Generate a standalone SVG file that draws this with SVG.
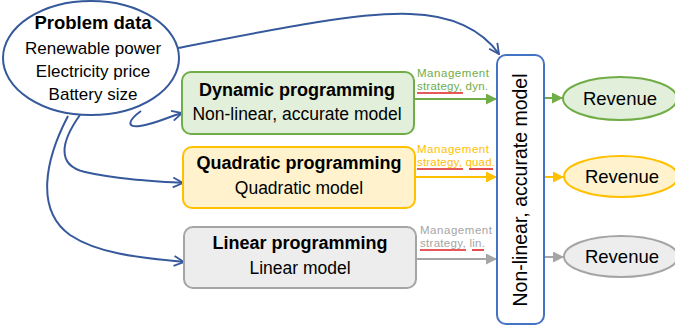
<svg xmlns="http://www.w3.org/2000/svg" width="675" height="329" viewBox="0 0 675 329">
  <defs>
    <style>
      text { font-family: "Liberation Sans", Arial, sans-serif; fill: #000; }
      .title { font-size: 18px; font-weight: bold; text-anchor: middle; }
      .sub { font-size: 17.5px; text-anchor: middle; }
      .small { font-size: 11.5px; }
      .flow { fill: none; stroke: #36599c; stroke-width: 2; }
      .spell { stroke: #e02020; stroke-width: 1.6; }
    </style>
    <marker id="openArrow" viewBox="0 0 12 12" refX="11" refY="6" markerWidth="12" markerHeight="12" markerUnits="userSpaceOnUse" orient="auto">
      <path d="M1,1 L11,6 L1,11" fill="none" stroke="#36599c" stroke-width="1.8"/>
    </marker>
    <marker id="triGreen" viewBox="0 0 10 10" refX="10" refY="5" markerWidth="11" markerHeight="11" markerUnits="userSpaceOnUse" orient="auto">
      <path d="M0,0 L10,5 L0,10 Z" fill="#70ad47"/>
    </marker>
    <marker id="triYellow" viewBox="0 0 10 10" refX="10" refY="5" markerWidth="11" markerHeight="11" markerUnits="userSpaceOnUse" orient="auto">
      <path d="M0,0 L10,5 L0,10 Z" fill="#ffc000"/>
    </marker>
    <marker id="triGray" viewBox="0 0 10 10" refX="10" refY="5" markerWidth="11" markerHeight="11" markerUnits="userSpaceOnUse" orient="auto">
      <path d="M0,0 L10,5 L0,10 Z" fill="#a5a5a5"/>
    </marker>
  </defs>

  <rect width="675" height="329" fill="#ffffff"/>

  <!-- connectors -->
  <g id="connectors">
    <path class="flow" d="M178,48 C280,28 360,12 410,14 C452,15 482,30 499,54" marker-end="url(#openArrow)"/>
    <path class="flow" d="M141,111 C127,121 127,128 140,126 C155,124 168,117 182,113" marker-end="url(#openArrow)"/>
    <path class="flow" d="M80,115 C62,140 55,165 85,172 C115,179 150,181 183,183" marker-end="url(#openArrow)"/>
    <path class="flow" d="M68,116 C45,160 35,210 70,235 C100,255 145,258 184,262" marker-end="url(#openArrow)"/>

    <line x1="414" y1="99" x2="497" y2="99" stroke="#70ad47" stroke-width="2" marker-end="url(#triGreen)"/>
    <line x1="415" y1="177" x2="497" y2="177" stroke="#ffc000" stroke-width="2" marker-end="url(#triYellow)"/>
    <line x1="416" y1="259" x2="497" y2="259" stroke="#a5a5a5" stroke-width="2" marker-end="url(#triGray)"/>

    <line x1="544" y1="98" x2="563" y2="98" stroke="#70ad47" stroke-width="2" marker-end="url(#triGreen)"/>
    <line x1="544" y1="177" x2="564" y2="177" stroke="#ffc000" stroke-width="2" marker-end="url(#triYellow)"/>
    <line x1="544" y1="257" x2="564" y2="257" stroke="#a5a5a5" stroke-width="2" marker-end="url(#triGray)"/>

    <!-- edge labels -->
    <text class="small" x="417" y="77" textLength="72" style="fill:#70ad47">Management</text>
    <text class="small" x="417" y="90" textLength="71" style="fill:#70ad47">strategy, dyn.</text>
    <line class="spell" x1="417" y1="93" x2="463" y2="93"/>

    <text class="small" x="417" y="153" textLength="72" style="fill:#ffc000">Management</text>
    <text class="small" x="417" y="166" textLength="78" style="fill:#ffc000">strategy, quad.</text>
    <line class="spell" x1="417" y1="169" x2="463" y2="169"/>
    <line class="spell" x1="469" y1="169" x2="493" y2="169"/>

    <text class="small" x="420" y="234" textLength="72" style="fill:#a5a5a5">Management</text>
    <text class="small" x="420" y="247" textLength="65" style="fill:#a5a5a5">strategy, lin.</text>
    <line class="spell" x1="420" y1="250" x2="466" y2="250"/>
    <line class="spell" x1="472" y1="250" x2="484" y2="250"/>
  </g>

  <!-- input data -->
  <g id="problem-data">
    <ellipse cx="91" cy="58" rx="88" ry="57" fill="#ffffff" stroke="#36599c" stroke-width="2"/>
    <text class="title" x="93" y="29" style="font-size:18.5px">Problem data</text>
    <text class="sub" x="93" y="54" style="font-size:17px">Renewable power</text>
    <text class="sub" x="93" y="77" style="font-size:17px">Electricity price</text>
    <text class="sub" x="93" y="100" style="font-size:17px">Battery size</text>
  </g>

  <!-- optimisation methods -->
  <g id="dynamic-programming">
    <rect x="182" y="72" width="232" height="62" rx="9" fill="#e2efda" stroke="#70ad47" stroke-width="2"/>
    <text class="title" x="297" y="96">Dynamic programming</text>
    <text class="sub" x="297" y="120">Non-linear, accurate model</text>
  </g>
  <g id="quadratic-programming">
    <rect x="183" y="147" width="232" height="61" rx="9" fill="#fff2cc" stroke="#ffc000" stroke-width="2"/>
    <text class="title" x="299" y="169">Quadratic programming</text>
    <text class="sub" x="299" y="194">Quadratic model</text>
  </g>
  <g id="linear-programming">
    <rect x="184" y="227" width="232" height="61" rx="9" fill="#ededed" stroke="#a5a5a5" stroke-width="2"/>
    <text class="title" x="300" y="249">Linear programming</text>
    <text class="sub" x="300" y="274">Linear model</text>
  </g>

  <!-- evaluation model -->
  <g id="evaluation-model">
    <rect x="497" y="55" width="47" height="269" rx="9" fill="#ffffff" stroke="#4472c4" stroke-width="2"/>
    <text class="sub" transform="translate(527,190) rotate(-90)" x="0" y="0" style="font-size:19.5px">Non-linear, accurate model</text>
  </g>

  <!-- results -->
  <g id="revenue-dp">
    <ellipse cx="620" cy="98.5" rx="57" ry="21.5" fill="#e2efda" stroke="#70ad47" stroke-width="2"/>
    <text class="sub" x="620" y="104.5" style="font-size:18.5px">Revenue</text>
  </g>
  <g id="revenue-qp">
    <ellipse cx="621" cy="176.5" rx="57" ry="20.5" fill="#fff2cc" stroke="#ffc000" stroke-width="2"/>
    <text class="sub" x="622" y="182.5" style="font-size:18.5px">Revenue</text>
  </g>
  <g id="revenue-lp">
    <ellipse cx="621" cy="256.5" rx="57" ry="20.5" fill="#ededed" stroke="#a5a5a5" stroke-width="2"/>
    <text class="sub" x="622" y="262.5" style="font-size:18.5px">Revenue</text>
  </g>
</svg>
